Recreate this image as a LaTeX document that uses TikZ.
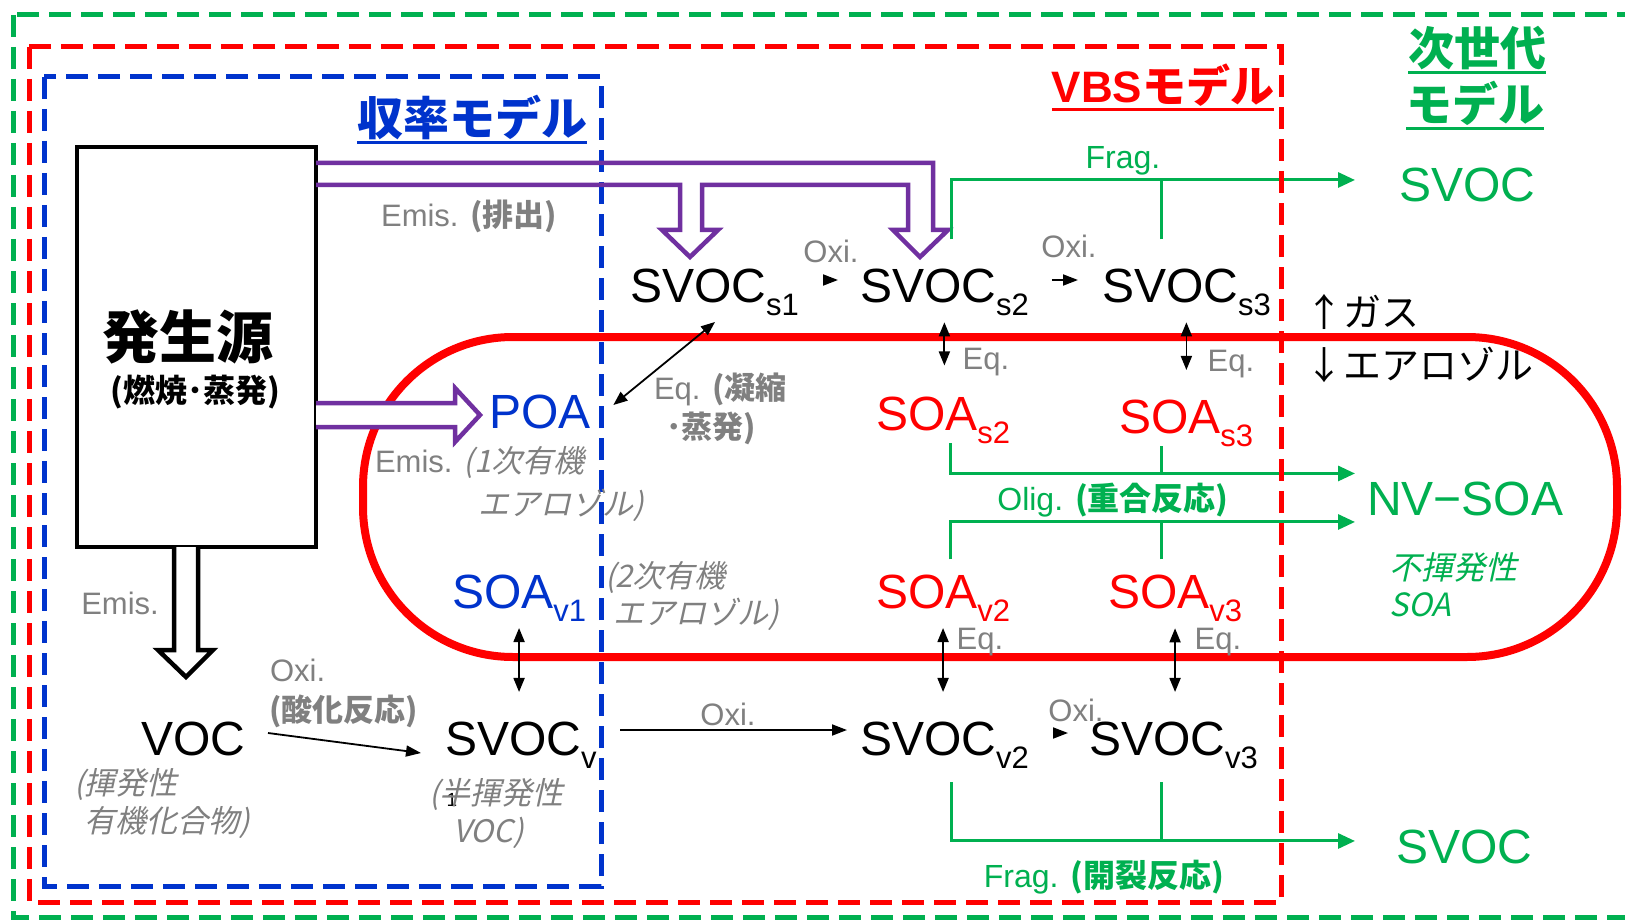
\documentclass[tikz,border=0pt]{standalone}
\usepackage{fontspec}
\setmainfont{Liberation Sans}
\newfontfamily\jp{Noto Sans CJK JP}
\newfontfamily\jpit[FakeSlant=0.22]{Noto Sans CJK JP}
\usetikzlibrary{arrows.meta}
\definecolor{gG}{RGB}{0,176,80}
\definecolor{bB}{RGB}{0,51,204}
\definecolor{pP}{RGB}{112,48,160}
\definecolor{gy}{RGB}{128,128,128}
\definecolor{rR}{RGB}{255,0,0}
\newcommand{\fsz}[1]{\fontsize{#1}{#1}\selectfont}
\newcommand{\sbx}[1]{\raisebox{-13pt}{\fsz{31pt}#1}}
\tikzset{
  every node/.style={inner sep=0pt, outer sep=0pt},
  big/.style={anchor=base west, font=\fsz{48pt}},
  gl/.style={text=gy, font=\fsz{31pt}},
  gn/.style={text=gG, font=\fsz{32pt}},
  ttl/.style={font=\jp\bfseries\fsz{46pt}},
  frame/.style={line width=5pt, dash pattern=on 22pt off 10pt},
  hol/.style={draw=pP, line width=4.5pt, line join=miter},
  bhol/.style={draw=black, line width=4.5pt, line join=miter, fill=white},
  barrow/.style={draw=black, line width=1.8pt, -{Triangle[length=15pt,width=11pt]}},
  dbl/.style={draw=black, line width=1.8pt, {Triangle[length=14pt,width=11pt]}-{Triangle[length=14pt,width=11pt]}},
  gline/.style={draw=gG, line width=3pt},
  garrow/.style={gline, -{Triangle[length=17pt,width=15pt]}},
  uline/.style={line width=3pt}
}
\begin{document}
\begin{tikzpicture}[x=1pt,y=-1pt]
\useasboundingbox (0,0) rectangle (1625,920);
\fill[white] (0,0) rectangle (1625,920);

% gas/aerosol boundary
\draw[rR, line width=8pt, rounded corners=150pt] (363,337) rectangle (1617,657);

% blue frame (yield model)
\draw[bB, frame] (44,77) rectangle (601,886);

% source box
\node[draw, line width=4.5pt, minimum width=239pt, minimum height=400pt, anchor=north west] (src) at (77,147) {};
\node (srct) at (188,337) {\jp\bfseries\fsz{57pt}発生源};
\node (srcs) at (195,392) {\jp\bfseries\fsz{32pt}(燃焼･蒸発)};

% big species labels
\node[big] (svocs1) at (630,302) {SVOC\sbx{s1}};
\node[big] (svocs2) at (860,302) {SVOC\sbx{s2}};
\node[big] (svocs3) at (1102,302) {SVOC\sbx{s3}};
\node[big, text=bB] (poa) at (489,428) {POA};
\node[big, text=rR] (soas2) at (876,430) {SOA\sbx{s2}};
\node[big, text=rR] (soas3) at (1119,433) {SOA\sbx{s3}};
\node[big, text=bB] (soav1) at (452,608) {SOA\sbx{v1}};
\node[big, text=rR] (soav2) at (876,608) {SOA\sbx{v2}};
\node[big, text=rR] (soav3) at (1108,608) {SOA\sbx{v3}};
\node[big] (voc) at (141,755) {VOC};
\node[big] (svocv) at (445,755) {SVOC\sbx{v}};
\node[big] (svocv2) at (860,755) {SVOC\sbx{v2}};
\node[big] (svocv3) at (1089,755) {SVOC\sbx{v3}};
\node[big, text=gG] (nvsoa) at (1367,515) {NV−SOA};
\node[big, text=gG] (svocA) at (1399,202) {SVOC};
\node[big, text=gG] (svocB) at (1396,863) {SVOC};

% purple hollow emission arrows
\draw[hol] ([yshift=-16pt]src.north east) -- (933,163) -- (933,230) -- (948,230) -- (920,257) -- (893,230) -- (908,230) -- (908,185) -- (702,185) -- (702,230) -- (718,230) -- (690,257) -- (662,230) -- (680,230) -- (680,185) -- ([yshift=-38pt]src.north east);
\draw[hol, fill=white] ([yshift=-256pt]src.north east) -- (455,403) -- (455,388) -- (480,415) -- (455,442) -- (455,427) -- ([yshift=-280pt]src.north east);
% black hollow arrow
\draw[bhol] ([xshift=-22.5pt]src.south) -- (174,650) -- (158,650) -- (186,677) -- (213,650) -- (198,650) -- ([xshift=1.5pt]src.south);

% titles
\node[ttl, text=bB] (ttl1) at (472,117) {収率モデル};
\draw[bB, uline] ([yshift=-3pt]ttl1.south west) -- ([yshift=-3pt]ttl1.south east);
\node[text=rR, font=\bfseries\fsz{44pt}] (ttl2) at (1163,85) {VBS{\jp モデル}};
\draw[rR, uline] ([yshift=-3pt]ttl2.south west) -- ([yshift=-3pt]ttl2.south east);
\node[ttl, text=gG] (ttl3) at (1477,48) {次世代};
\draw[gG, uline] ([yshift=-3pt]ttl3.south west) -- ([yshift=-3pt]ttl3.south east);
\node[ttl, text=gG] (ttl4) at (1475,103) {モデル};
\draw[gG, uline] ([yshift=-3pt]ttl4.south west) -- ([yshift=-3pt]ttl4.south east);

% gas / aerosol labels
\node[anchor=west] (gas) at (1305,312) {\jp\fsz{38pt}↑ガス};
\node[anchor=west] (aer) at (1305,365) {\jp\fsz{38pt}↓エアロゾル};

% grey labels
\node[gl] (em1) at (469,216) {Emis. {\jp\bfseries (排出)}};
\node[gl] (em2) at (120,603) {Emis.};
\node[gl, anchor=west] (ox1) at (270,670) {Oxi.};
\node[gl, anchor=west] (ox1j) at (269,711) {\jp\bfseries (酸化反応)};
\node[gl] (ox2) at (831,251) {Oxi.};
\node[gl] (ox3) at (1069,246) {Oxi.};
\node[gl] (ox4) at (728,714) {Oxi.};
\node[gl] (ox5) at (1076,710) {Oxi.};
\node[gl, anchor=west] (eqa) at (654,389) {Eq. {\jp\bfseries (凝縮}};
\node[gl, anchor=west] (eqb) at (666,428) {\jp\bfseries ･蒸発)};
\node[gl] (eq1) at (986,362) {Eq.};
\node[gl] (eq2) at (1231,364) {Eq.};
\node[gl] (eq3) at (980,642) {Eq.};
\node[gl] (eq4) at (1218,642) {Eq.};
\node[gl, anchor=west] (em3) at (375,463) {Emis. {\jpit (1次有機}};
\node[gl, anchor=west] (em3b) at (478,505) {\jpit エアロゾル)};
\node[gl, anchor=west] (sec1) at (605,578) {\jpit (2次有機};
\node[gl, anchor=west] (sec2) at (613,614) {\jpit エアロゾル)};
\node[font=\fsz{19pt}] (stray) at (452,800) {1};
\node[gl, anchor=west] (vocj1) at (74,785) {\jpit (揮発性};
\node[gl, anchor=west] (vocj2) at (84,823) {\jpit 有機化合物)};
\node[gl, anchor=west] (svj1) at (429,794) {\jpit (半揮発性};
\node[gl, anchor=west] (svj2) at (453,833) {\jpit VOC)};

% green labels
\node[gn] (frag1) at (1123,161) {Frag.};
\node[gn] (olig) at (1113,500) {Olig. {\jp\bfseries (重合反応)}};
\node[gn] (frag2) at (1104,877) {Frag. {\jp\bfseries (開裂反応)}};
\node[gn, anchor=west] (nvj1) at (1389,567) {\jpit 不揮発性};
\node[gn, anchor=west] (nvj2) at (1389,605) {\jpit SOA};

% black reaction arrows
\draw[barrow, shorten <=24pt, shorten >=22pt] ([yshift=22pt]svocs1.base east) -- ([yshift=22pt]svocs2.base west);
\draw[barrow, shorten <=23pt, shorten >=24pt] ([yshift=22pt]svocs2.base east) -- ([yshift=22pt]svocs3.base west);
\draw[barrow, shorten <=24pt, shorten >=21pt] ([yshift=22pt]svocv2.base east) -- ([yshift=22pt]svocv3.base west);
\draw[barrow, shorten <=23.5pt, shorten >=13pt] ([yshift=25pt]svocv.base east) -- ([yshift=25pt]svocv2.base west);
\draw[barrow] ([shift={(23pt,22pt)}]voc.base east) -- ([shift={(-24pt,2pt)}]svocv.base west);
\draw[dbl] ([shift={(23pt,23pt)}]poa.base east) -- ([shift={(85pt,-20pt)}]svocs1.base west);
\draw[dbl, shorten <=7pt, shorten >=31pt] (svocs2.south) -- (svocs2.south |- soas2.north);
\draw[dbl, shorten <=7pt, shorten >=29.5pt] (svocs3.south) -- (svocs3.south |- soas3.north);
\draw[dbl, shorten <=7pt, shorten >=29.5pt] (soav1.south) -- (soav1.south |- svocv.north);
\draw[dbl, shorten <=7pt, shorten >=29.5pt] (soav2.south) -- (soav2.south |- svocv2.north);
\draw[dbl, shorten <=7pt, shorten >=29.5pt] (soav3.south) -- (soav3.south |- svocv3.north);

% green fragmentation / oligomerisation
\draw[garrow, shorten >=44pt] ([shift={(7.5pt,29pt)}]svocs2.north) |- ([yshift=5.5pt]svocA.west);
\draw[gline] ([shift={(-24.5pt,29pt)}]svocs3.north) -- ++(0,-59);
\draw[garrow, shorten >=12pt] ([xshift=7pt]soas2.south) |- ([yshift=25pt]nvsoa.west);
\draw[gline] ([xshift=-24.5pt]soas3.south) -- ++(0,27);
\draw[garrow, shorten >=12pt] ([shift={(7pt,15pt)}]soav2.north) |- ([yshift=-23.5pt]nvsoa.west);
\draw[gline] ([shift={(-14pt,15pt)}]soav3.north) -- ++(0,-37);
\draw[garrow, shorten >=41pt] ([shift={(7pt,-14pt)}]svocv2.south) |- ([yshift=5.5pt]svocB.west);
\draw[gline] ([shift={(-12pt,-14pt)}]svocv3.south) -- ++(0,58);

% outer frames
\draw[rR, frame] (29,47) rectangle (1281,902);
\draw[gG, frame] (13,15) rectangle (1700,917);
\end{tikzpicture}
\end{document}
